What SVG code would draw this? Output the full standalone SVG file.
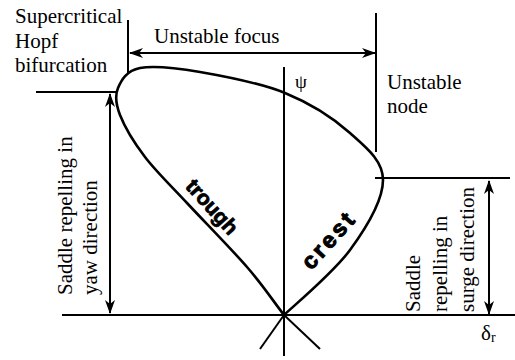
<svg xmlns="http://www.w3.org/2000/svg" width="515" height="360" viewBox="0 0 515 360">
<style>
.ln{stroke:#000;stroke-width:2;fill:none}
.cv{stroke:#000;stroke-width:2.6;fill:none;stroke-linejoin:round}
.t{font-family:"Liberation Serif",Tinos,"Times New Roman","DejaVu Serif",serif;font-size:21px;fill:#000}
.b{font-family:"Liberation Sans",Arimo,Arial,sans-serif;font-weight:bold;font-size:21px;fill:#000;stroke:#000;stroke-width:0.8}
</style>
<defs>
<marker id="ah" viewBox="0 0 14 10" refX="13" refY="5" markerWidth="14" markerHeight="10" markerUnits="userSpaceOnUse" orient="auto-start-reverse">
<path d="M0,0 L14,5 L0,10 L4,5 Z" fill="#000"/>
</marker>
</defs>
<rect width="515" height="360" fill="#fff"/>
<g id="connectors">
<line class="ln" x1="62" y1="315" x2="515" y2="315"/>
<line class="ln" x1="284" y1="67" x2="284" y2="356"/>
<line class="ln" x1="284" y1="315" x2="260" y2="349"/>
<line class="ln" x1="284" y1="315" x2="320" y2="349"/>
<line class="ln" x1="128" y1="20" x2="128" y2="73"/>
<line class="ln" x1="376" y1="13" x2="376" y2="152"/>
<line class="ln" x1="36" y1="92" x2="117" y2="92"/>
<line class="ln" x1="375" y1="178" x2="510" y2="178"/>
<line class="ln" x1="130" y1="53" x2="375" y2="53" marker-start="url(#ah)" marker-end="url(#ah)"/>
<line class="ln" x1="110" y1="94" x2="110" y2="313" marker-start="url(#ah)" marker-end="url(#ah)"/>
<line class="ln" x1="489" y1="181" x2="489" y2="314" marker-start="url(#ah)" marker-end="url(#ah)"/>
</g>
<g id="curve">
<path class="cv" d="M284,315 C271.7,299 263.2,285.7 247,267 C230.8,248.3 204,221.3 187,203 C170,184.7 156.2,171.7 145,157 C133.8,142.3 124.5,126.5 120,115 C115.5,103.5 114.7,95.8 118,88 C121.3,80.2 126.3,70.7 140,68 C153.7,65.3 175.8,67.8 200,72 C224.2,76.2 260,82.8 285,93 C310,103.2 333.7,118.5 350,133 C366.3,147.5 383,160.5 383,180 C383,199.5 366.5,227.5 350,250 C333.5,272.5 298,302 284,315"/>
</g>
<g id="labels">
<text class="t" x="15" y="23">Supercritical</text>
<text class="t" x="15" y="47.5">Hopf</text>
<text class="t" x="15" y="72">bifurcation</text>
<text class="t" x="154" y="43">Unstable focus</text>
<text class="t" x="387" y="89">Unstable</text>
<text class="t" x="387" y="113">node</text>
<text class="t" x="295" y="88" style="font-size:19px">ψ</text>
<text class="t" x="481" y="340">δ<tspan style="font-size:14px" dy="2">r</tspan></text>
<text class="t" transform="translate(72,295) rotate(-90)">Saddle repelling in</text>
<text class="t" transform="translate(97,295) rotate(-90)">yaw direction</text>
<text class="t" transform="translate(420,312) rotate(-90)">Saddle</text>
<text class="t" transform="translate(447,312) rotate(-90)">repelling in</text>
<text class="t" transform="translate(474,312) rotate(-90)">surge direction</text>
<text class="b" text-anchor="middle" transform="translate(212,207) rotate(48)" dy="7">trough</text>
<text class="b" text-anchor="middle" transform="translate(329,240) rotate(-48)" dy="7.5" style="font-size:23px;letter-spacing:3px;stroke-width:1">crest</text>
</g>
</svg>
